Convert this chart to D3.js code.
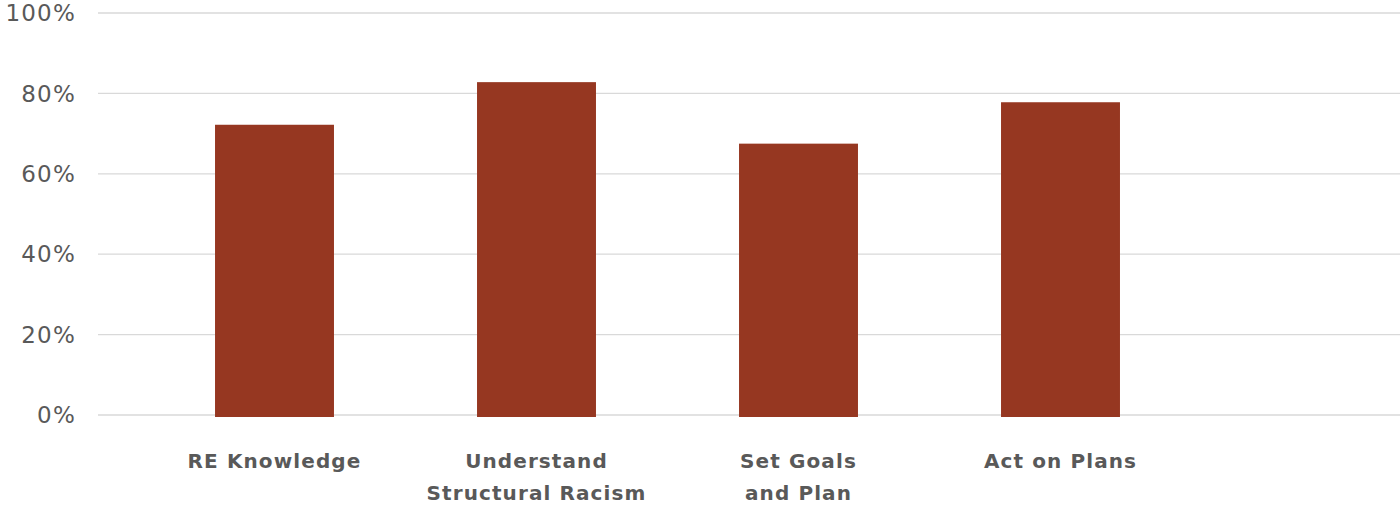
<!DOCTYPE html>
<html>
<head>
<meta charset="utf-8">
<script src="https://cdn.jsdelivr.net/npm/d3@7"></script>
<style>
  body { margin: 0; background: #fff; }
  svg { display: block; }
  text { font-family: "DejaVu Sans", "Open Sans", sans-serif; fill: #595959; }
</style>
</head>
<body>
<svg id="chart" width="1400" height="506"></svg>
<script>
const categories = [["RE Knowledge"], ["Understand", "Structural Racism"], ["Set Goals", "and Plan"], ["Act on Plans"]];
const values = [0.722, 0.828, 0.675, 0.778];
const yTicks = [0, 0.2, 0.4, 0.6, 0.8, 1.0];

const svg = d3.select("#chart");
const plot = { left: 98, right: 1400, top: 13, bottom: 415 };

const names = categories.map(c => c.join(" "));

const scale = {
    x: d3.scaleBand(names, [143.5, 1191.5]).paddingInner(0.546).paddingOuter(0.273),
    y: d3.scaleLinear([0, 1], [plot.bottom, plot.top]),
};

// gridlines
svg.append("g")
    .selectAll("line")
    .data(yTicks)
    .join("line")
    .attr("x1", plot.left)
    .attr("x2", plot.right)
    .attr("y1", d => scale.y(d))
    .attr("y2", d => scale.y(d))
    .attr("stroke", "#d9d9d9")
    .attr("stroke-width", 1.3);

// y tick labels
svg.append("g")
    .selectAll("text")
    .data(yTicks)
    .join("text")
    .attr("x", 76)
    .attr("y", d => scale.y(d))
    .attr("dy", "0.36em")
    .attr("text-anchor", "end")
    .style("font-size", "23px")
    .style("letter-spacing", "1.2px")
    .text(d3.format(".0%"));

// bars
svg.append("g")
    .selectAll("rect")
    .data(values)
    .join("rect")
    .attr("x", (d, i) => scale.x(names[i]))
    .attr("width", scale.x.bandwidth())
    .attr("y", d => scale.y(d))
    .attr("height", d => scale.y(0) - scale.y(d) + 2)
    .attr("fill", "#963721");

// category labels
const labels = svg.append("g")
    .selectAll("text")
    .data(categories)
    .join("text")
    .attr("x", (d, i) => scale.x(names[i]) + scale.x.bandwidth() / 2)
    .attr("y", 468)
    .attr("text-anchor", "middle")
    .style("font-size", "20px")
    .style("font-weight", "bold")
    .style("letter-spacing", "1.1px");

labels.selectAll("tspan")
    .data(d => d)
    .join("tspan")
    .attr("x", function () { return this.parentNode.getAttribute("x"); })
    .attr("dy", (d, i) => i === 0 ? 0 : 32)
    .text(d => d);
</script>
</body>
</html>
